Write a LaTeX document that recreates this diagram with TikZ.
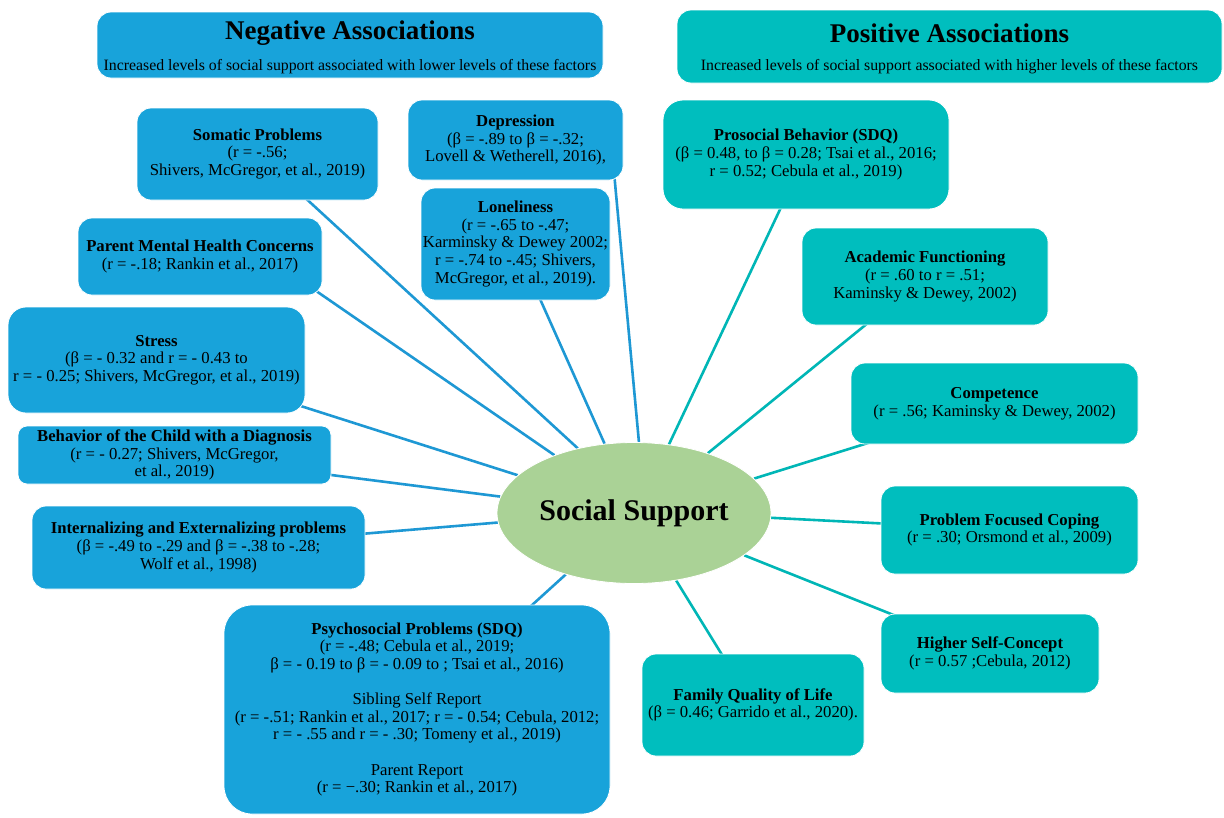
\documentclass[tikz,border=0pt]{standalone}
\usepackage{fontspec}
\setmainfont{Liberation Serif}
\usetikzlibrary{shapes.geometric,calc}
\pgfdeclarelayer{bg}
\pgfsetlayers{bg,main}
\definecolor{nblue}{RGB}{24,163,218}
\definecolor{lblue}{RGB}{30,152,212}
\definecolor{pteal}{RGB}{0,190,190}
\definecolor{lteal}{RGB}{0,182,182}
\definecolor{sgreen}{RGB}{170,210,150}
\begin{document}
\begin{tikzpicture}[x=1pt,y=-1pt,
  box/.style={rounded corners=14pt, draw=white, line width=0.8pt, align=center, inner sep=0pt,
    font=\fontsize{16.7}{17.6}\selectfont},
  negbox/.style={box, fill=nblue},
  posbox/.style={box, fill=pteal},
  nline/.style={draw=lblue, line width=2.6pt},
  pline/.style={draw=lteal, line width=2.6pt},
  hdtitle/.style={inner sep=0pt, font=\fontsize{27}{30}\selectfont\bfseries},
  hdsub/.style={inner sep=0pt, font=\fontsize{15.8}{18}\selectfont},
]
\useasboundingbox (0,0) rectangle (1224,817);

% headers
\node[negbox, minimum width=506pt, minimum height=66pt] (negh) at (350,45) {};
\node[hdtitle] (negt) at (350,33) {Negative Associations};
\node[hdsub] (negs) at (350,67) {Increased levels of social support associated with lower levels of these factors};
\node[posbox, minimum width=545pt, minimum height=73pt] (posh) at (949.5,46.5) {};
\node[hdtitle] (post) at (949.5,33) {Positive Associations};
\node[hdsub] (poss) at (949.5,67) {Increased levels of social support associated with higher levels of these factors};

% central ellipse
\node[ellipse, fill=sgreen, draw=white, line width=0.8pt, minimum width=274pt, minimum height=141pt, inner sep=0pt,
  font=\fontsize{30}{34}\selectfont\bfseries] (ss) at (634,513) {Social Support};

% negative boxes
\node[negbox, minimum width=241pt, minimum height=92pt] (som) at (257.5,154)
  {\textbf{Somatic Problems}\\(r = -.56;\\Shivers, McGregor, et al., 2019)};
\node[negbox, minimum width=215pt, minimum height=80pt] (dep) at (515.5,140)
  {\textbf{Depression}\\(β = -.89 to β = -.32;\\Lovell \& Wetherell, 2016),};
\node[negbox, minimum width=189pt, minimum height=112pt] (lon) at (515.5,244)
  {\textbf{Loneliness}\\(r = -.65 to -.47;\\Karminsky \& Dewey 2002;\\r = -.74 to -.45; Shivers,\\McGregor, et al., 2019).};
\node[negbox, minimum width=244pt, minimum height=77pt] (par) at (200,256.5)
  {\textbf{Parent Mental Health Concerns}\\(r = -.18; Rankin et al., 2017)};
\node[negbox, rounded corners=18pt, minimum width=297pt, minimum height=106pt] (str) at (156.5,360)
  {\textbf{Stress}\\(β = - 0.32 and r = - 0.43 to\\r = - 0.25; Shivers, McGregor, et al., 2019)};
\node[negbox, rounded corners=9pt, minimum width=313pt, minimum height=58pt] (beh) at (174.5,455)
  {\textbf{Behavior of the Child with a Diagnosis}\\(r = - 0.27; Shivers, McGregor,\\et al., 2019)};
\node[negbox, minimum width=333pt, minimum height=83pt] (int) at (198.5,547.5)
  {\textbf{Internalizing and Externalizing problems}\\(β = -.49 to -.29 and β = -.38 to -.28;\\Wolf et al., 1998)};
\node[negbox, rounded corners=28pt, minimum width=386pt, minimum height=209pt] (psy) at (417,709.5)
  {\textbf{Psychosocial Problems (SDQ)}\\(r = -.48; Cebula et al., 2019;\\β = - 0.19 to β = - 0.09 to ; Tsai et al., 2016)\\[17.6pt]
   Sibling Self Report\\(r = -.51; Rankin et al., 2017; r = - 0.54; Cebula, 2012;\\r = - .55 and r = - .30; Tomeny et al., 2019)\\[17.6pt]
   Parent Report\\(r = −.30; Rankin et al., 2017)};

% positive boxes
\node[posbox, rounded corners=20pt, minimum width=286pt, minimum height=109pt] (pro) at (806,154.5)
  {\textbf{Prosocial Behavior (SDQ)}\\(β = 0.48, to β = 0.28; Tsai et al., 2016;\\r = 0.52; Cebula et al., 2019)};
\node[posbox, minimum width=246pt, minimum height=97pt] (aca) at (925,276.5)
  {\textbf{Academic Functioning}\\(r = .60 to r = .51;\\Kaminsky \& Dewey, 2002)};
\node[posbox, minimum width=287pt, minimum height=81pt] (com) at (994.5,403.5)
  {\textbf{Competence}\\(r = .56; Kaminsky \& Dewey, 2002)};
\node[posbox, minimum width=257pt, minimum height=88pt] (pfc) at (1009.5,530)
  {\textbf{Problem Focused Coping}\\(r = .30; Orsmond et al., 2009)};
\node[posbox, minimum width=218pt, minimum height=79pt] (hsc) at (990,653.5)
  {\textbf{Higher Self-Concept}\\(r = 0.57 ;Cebula, 2012)};
\node[posbox, minimum width=222pt, minimum height=102pt] (fql) at (753,705)
  {\textbf{Family Quality of Life}\\(β = 0.46; Garrido et al., 2020).};

% connector end points inside boxes
\coordinate (parE) at ($(par.south east)+(-10,-7)$);
\coordinate (depE) at ($(dep.south east)+(-9,-4)$);

\begin{pgfonlayer}{bg}
\fill[white] (0,0) rectangle (1224,817);
\draw[nline] (ss.131.6) -- (som.center);
\draw[nline] (ss.86) -- (depE);
\draw[nline] (ss.113.2) -- (lon.center);
\draw[nline] (ss.144.9) -- (parE);
\draw[nline] (ss.162.8) -- (str.center);
\draw[nline] (ss.173) -- (beh.center);
\draw[nline] (ss.184) -- (int.center);
\draw[nline] (ss.222) -- (psy.center);
\draw[pline] (ss.63.4) -- (pro.center);
\draw[pline] (ss.39) -- (aca.center);
\draw[pline] (ss.16.8) -- (com.center);
\draw[pline] (ss.-2) -- (pfc.center);
\draw[pline] (ss.-21.5) -- (hsc.center);
\draw[pline] (ss.-58) -- (fql.center);
\end{pgfonlayer}
\end{tikzpicture}
\end{document}
